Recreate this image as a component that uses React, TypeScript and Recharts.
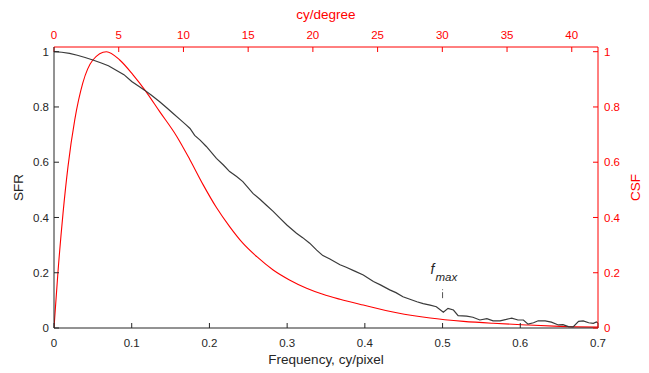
import { LineChart, Line, XAxis, YAxis, ReferenceLine, Label } from 'recharts';

// SFR curve (black), frequency in cy/pixel
const sfrFreq = [
  0, 0.01, 0.02, 0.03, 0.04, 0.05, 0.06, 0.07, 0.08, 0.09, 0.1, 0.11, 0.117, 0.125, 0.136, 0.145,
  0.153, 0.162, 0.17, 0.175, 0.181, 0.188, 0.196, 0.209, 0.218, 0.226, 0.235, 0.243, 0.256, 0.265,
  0.273, 0.282, 0.291, 0.3, 0.312, 0.32, 0.329, 0.338, 0.346, 0.355, 0.368, 0.376, 0.387, 0.398,
  0.411, 0.42, 0.432, 0.44, 0.449, 0.458, 0.467, 0.475, 0.484, 0.492, 0.501, 0.507, 0.514, 0.52,
  0.531, 0.539, 0.548, 0.557, 0.565, 0.574, 0.582, 0.589, 0.597, 0.604, 0.61, 0.617, 0.623, 0.632,
  0.64, 0.649, 0.655, 0.662, 0.668, 0.675, 0.681, 0.688, 0.694, 0.698, 0.7,
];
const sfrValues = [
  1.0, 0.998, 0.994, 0.987, 0.979, 0.97, 0.96, 0.949, 0.933, 0.917, 0.892, 0.873, 0.86, 0.843, 0.819, 0.797,
  0.777, 0.755, 0.735, 0.722, 0.697, 0.68, 0.657, 0.614, 0.59, 0.566, 0.548, 0.53, 0.487, 0.466,
  0.445, 0.422, 0.397, 0.372, 0.343, 0.327, 0.307, 0.282, 0.262, 0.25, 0.229, 0.22, 0.206, 0.192,
  0.168, 0.156, 0.138, 0.128, 0.113, 0.104, 0.095, 0.088, 0.083, 0.077, 0.057, 0.071, 0.065, 0.045,
  0.043, 0.039, 0.029, 0.034, 0.026, 0.026, 0.031, 0.036, 0.029, 0.029, 0.014, 0.019, 0.026, 0.026,
  0.021, 0.011, 0.012, 0.005, 0.004, 0.024, 0.026, 0.019, 0.017, 0.022, 0.018,
];

// CSF curve (red), same frequency axis
const csfFreq = [
  0, 0.002, 0.005, 0.0116, 0.018, 0.0267, 0.037, 0.05, 0.0675, 0.0846, 0.1017, 0.117, 0.136, 0.1576,
  0.1747, 0.192, 0.209, 0.226, 0.243, 0.261, 0.282, 0.303, 0.325, 0.346, 0.368, 0.398, 0.441, 0.484,
  0.527, 0.565, 0.608, 0.651, 0.7,
];
const csfValues = [
  0, 0.08, 0.198, 0.415, 0.584, 0.753, 0.886, 0.97, 1.0, 0.97, 0.916, 0.861, 0.783, 0.695,
  0.61, 0.518, 0.436, 0.367, 0.307, 0.258, 0.21, 0.174, 0.144, 0.122, 0.104, 0.083, 0.055, 0.036,
  0.024, 0.017, 0.011, 0.006, 0.003,
];

const freqTicks = [0, 0.1, 0.2, 0.3, 0.4, 0.5, 0.6, 0.7];
const degreeTicks = [0, 5, 10, 15, 20, 25, 30, 35, 40];
const valueTicks = [0, 0.2, 0.4, 0.6, 0.8, 1];
const DEG_PER_FREQ = 60.04; // cy/degree per cy/pixel

const sfrData = sfrFreq.map((f, i) => ({ f, v: sfrValues[i] }));
const csfData = csfFreq.map((f, i) => ({ f, v: csfValues[i] }));

const FONT = '"Liberation Sans", Arial, Helvetica, sans-serif';
const DARK = '#262626';
const RED = '#ff0000';

function AxisTitle({ viewBox, text, dx, dy, rotate, color }: any) {
  const x = viewBox.x + dx;
  const y = dy === 'mid' ? viewBox.y + viewBox.height / 2 : viewBox.y + dy;
  return (
    <text
      x={x}
      y={y}
      textAnchor="middle"
      fill={color}
      fontSize={13.5}
      fontFamily={FONT}
      transform={rotate ? `rotate(-90, ${x}, ${y})` : undefined}
    >
      {text}
    </text>
  );
}

function FmaxLabel({ viewBox }: any) {
  return (
    <text x={viewBox.x - 12} y={viewBox.y - 15} fill={DARK} fontFamily={FONT} fontStyle="italic" fontSize={14}>
      f
      <tspan dx={1} dy={7} fontSize={11.5}>max</tspan>
    </text>
  );
}

export default function App() {
  const tickStyle = { fill: DARK, fontSize: 11.5, fontFamily: FONT };
  const redTickStyle = { fill: RED, fontSize: 11.5, fontFamily: FONT };
  return (
    <div style={{ position: 'absolute', left: 0, top: 0, background: '#fff' }}>
      <LineChart width={649} height={373} margin={{ top: 0, right: 0, bottom: 0, left: 0 }}>
        <XAxis
          xAxisId="freq"
          dataKey="f"
          type="number"
          domain={[0, 0.7]}
          ticks={freqTicks}
          allowDataOverflow
          height={45}
          stroke={DARK}
          tickSize={-5}
          tickMargin={15.5}
          tick={tickStyle}
        >
          <Label content={<AxisTitle text="Frequency, cy/pixel" dx={272} dy={36} color={DARK} />} />
        </XAxis>
        <XAxis
          xAxisId="deg"
          dataKey="f"
          orientation="top"
          type="number"
          domain={[0, 0.7]}
          ticks={degreeTicks.map((d) => d / DEG_PER_FREQ)}
          tickFormatter={(v) => String(Math.round(v * DEG_PER_FREQ))}
          allowDataOverflow
          height={47}
          stroke={RED}
          tickSize={-5}
          tickMargin={13}
          tick={redTickStyle}
        >
          <Label content={<AxisTitle text="cy/degree" dx={272} dy={19} color={RED} />} />
        </XAxis>
        <YAxis
          yAxisId="sfr"
          type="number"
          domain={[0, 1.017]}
          ticks={valueTicks}
          allowDataOverflow
          width={54}
          stroke={DARK}
          tickSize={-5}
          tickMargin={10}
          tick={tickStyle}
        >
          <Label content={<AxisTitle text="SFR" dx={23} dy="mid" rotate color={DARK} />} />
        </YAxis>
        <YAxis
          yAxisId="csf"
          orientation="right"
          type="number"
          domain={[0, 1.017]}
          ticks={valueTicks}
          allowDataOverflow
          width={51}
          stroke={RED}
          tickSize={-5}
          tickMargin={11}
          tick={redTickStyle}
        >
          <Label content={<AxisTitle text="CSF" dx={42} dy="mid" rotate color={RED} />} />
        </YAxis>
        <Line
          data={csfData}
          dataKey="v"
          xAxisId="deg"
          yAxisId="csf"
          type="monotone"
          stroke={RED}
          strokeWidth={1.1}
          dot={false}
          isAnimationActive={false}
        />
        <Line
          data={sfrData}
          dataKey="v"
          xAxisId="freq"
          yAxisId="sfr"
          type="linear"
          stroke="#3a3a3a"
          strokeWidth={1.2}
          dot={false}
          isAnimationActive={false}
        />
        <ReferenceLine
          xAxisId="freq"
          yAxisId="sfr"
          segment={[{ x: 0.5, y: 0.108 }, { x: 0.5, y: 0.14 }]}
          stroke="#555"
          strokeWidth={1}
          strokeDasharray="6 2"
          label={<FmaxLabel />}
        />
      </LineChart>
    </div>
  );
}
